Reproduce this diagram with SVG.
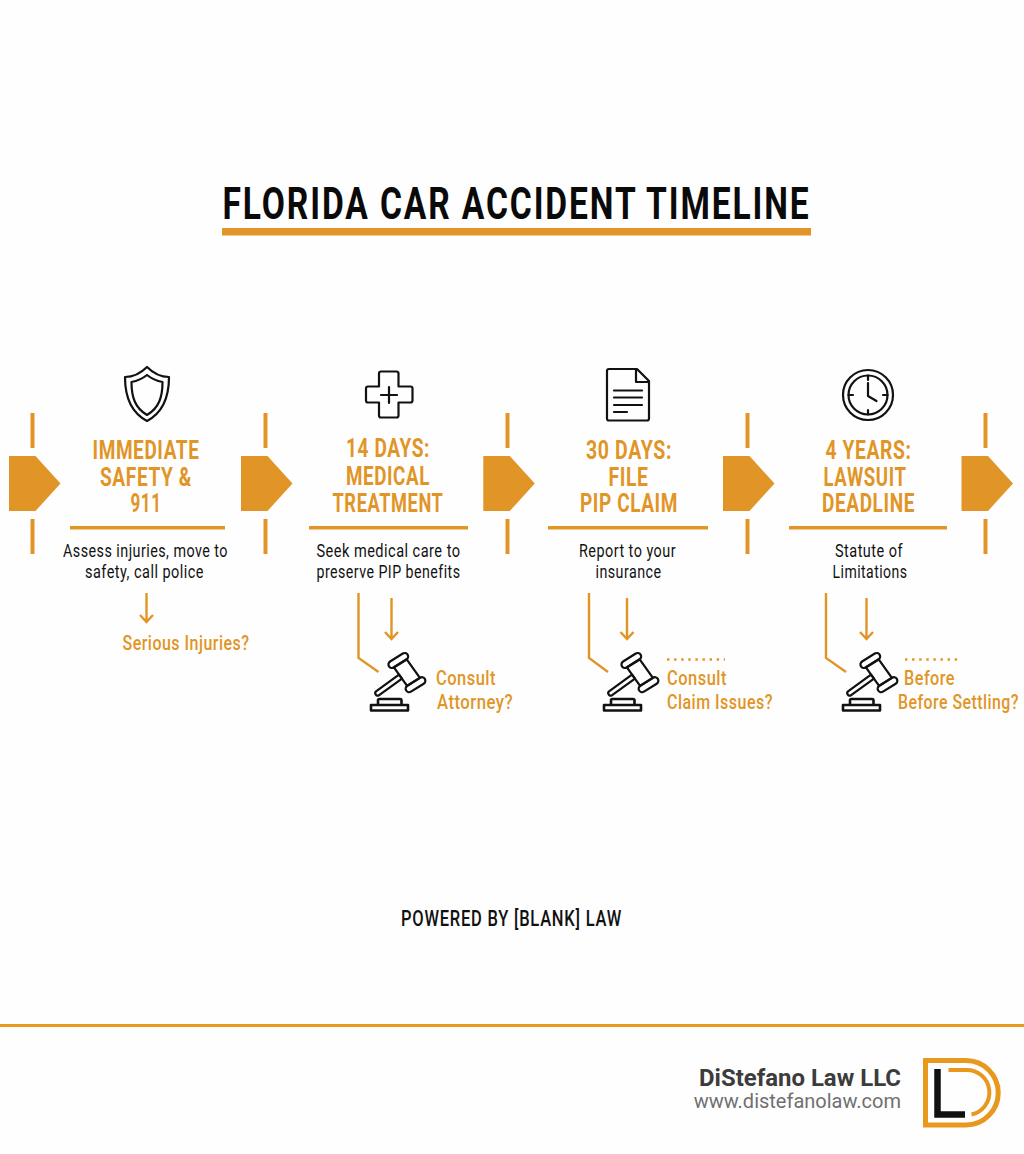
<svg xmlns="http://www.w3.org/2000/svg" width="1024" height="1154" viewBox="0 0 1024 1154">
<style>
text{font-family:Roboto,"Liberation Sans",sans-serif}
.h{font-size:25.500px;font-weight:700;fill:#e19527;text-anchor:middle;letter-spacing:.8px}
.b{font-size:18.500px;fill:#111;text-anchor:middle;letter-spacing:.6px}
.q{font-size:20.500px;font-weight:500;fill:#e19527;letter-spacing:.6px}
.or{fill:none;stroke:#e19527;stroke-width:2.400}
.k{fill:none;stroke:#111;stroke-width:2.200;stroke-linejoin:round;stroke-linecap:round}
.d{fill:none;stroke:#e19527;stroke-width:2.400;stroke-dasharray:2.400 4.700}
.t{fill:none;stroke:#e19527;stroke-width:4}
</style>
<defs>
<path id="chev" d="M9 456H35.500L60.500 483.500L35.500 511H9Z" fill="#e19527"/>
<path id="tick" class="t" d="M32.500 413V448M32.500 519V554"/>
<path id="arrS" class="or" d="M0 0V29M-6.500 22L0 29L6.500 22"/>
<path id="arrL" class="or" d="M0 0V41M-6.500 34L0 41L6.500 34"/>
<g id="gavel" class="k" stroke-width="2.400">
<path d="M6 38.300L29 21.600L32 25.600L8.800 42.300C6.500 44 4 40 6 38.300Z"/>
<path d="M23.900 14.300L36.700 6.300L49.900 24.900L37.100 32.900Z"/>
<rect x="17.300" y="4" width="22" height="7" rx="3.500" transform="rotate(-32 28.300 7.500)"/>
<rect x="34.500" y="28.200" width="22" height="7" rx="3.500" transform="rotate(-32 45.500 31.700)"/>
<path d="M8 51V47.500Q8 46 9.500 46H30Q31.500 46 31.500 47.500V51M1 52H38V57.500H1Z" stroke-width="2.600"/>
</g>
</defs>
<rect width="1024" height="1154" fill="#fefefe"/>
<g id="title">
<text x="516.500" y="219" font-size="45" font-weight="700" fill="#0a0a0a" text-anchor="middle" letter-spacing="2.500" textLength="588" lengthAdjust="spacingAndGlyphs">FLORIDA CAR ACCIDENT TIMELINE</text>
<rect x="222" y="228" width="589" height="7.500" fill="#e19527"/>
</g>
<g id="connectors">
<use href="#chev"/><use href="#tick"/>
<use href="#chev" x="232"/><use href="#tick" x="233"/>
<use href="#chev" x="474.300"/><use href="#tick" x="475"/>
<use href="#chev" x="714"/><use href="#tick" x="715"/>
<use href="#chev" x="952.500"/><use href="#tick" x="953"/>
<use href="#arrS" x="146.500" y="593"/>
<use href="#arrL" x="391.500" y="598"/>
<use href="#arrL" x="627" y="598"/>
<use href="#arrL" x="866.500" y="598"/>
<path class="or" d="M358.500 593V658L378.500 672"/>
<path class="or" d="M589 593V658L608 672"/>
<path class="or" d="M826 593V658L846 672"/>
<path class="d" d="M667 659.500H725M905 659.500H958"/>
</g>
<g id="step1">
<path class="k" d="M147 367C140 374 132 377 125 377C125 396 130 412 147 421C164 412 169 396 169 377C162 377 154 374 147 367Z"/>
<path class="k" stroke-width="1.800" d="M147 375C142 379 137 381 131.500 382C131.500 397 135 408 147 415C159 408 162.500 397 162.500 382C157 381 152 379 147 375Z"/>
<text class="h"><tspan x="146" y="459" textLength="107" lengthAdjust="spacingAndGlyphs">IMMEDIATE</tspan><tspan x="146" y="486" textLength="92" lengthAdjust="spacingAndGlyphs">SAFETY &amp;</tspan><tspan x="146" y="512" textLength="31" lengthAdjust="spacingAndGlyphs">911</tspan></text>
<rect x="70" y="526" width="155" height="3.500" fill="#e19527"/>
<text class="b"><tspan x="145.500" y="557" textLength="165" lengthAdjust="spacingAndGlyphs">Assess injuries, move to</tspan><tspan x="144.500" y="578" textLength="119" lengthAdjust="spacingAndGlyphs">safety, call police</tspan></text>
<text class="q" x="122.500" y="650" textLength="127" lengthAdjust="spacingAndGlyphs">Serious Injuries?</text>
</g>
<g id="step2">
<path class="k" d="M381 371.500H396.500Q398.500 371.500 398.500 373.500V386.500H410.500Q412.500 386.500 412.500 388.500V400.500Q412.500 402.500 410.500 402.500H398.500V415.500Q398.500 417.500 396.500 417.500H381Q379 417.500 379 415.500V402.500H368Q366 402.500 366 400.500V388.500Q366 386.500 368 386.500H379V373.500Q379 371.500 381 371.500Z"/>
<path class="k" d="M389 387V403M381 395H397" stroke-width="1.800"/>
<text class="h"><tspan x="388" y="457" textLength="84" lengthAdjust="spacingAndGlyphs">14 DAYS:</tspan><tspan x="388" y="485" textLength="84" lengthAdjust="spacingAndGlyphs">MEDICAL</tspan><tspan x="388" y="512" textLength="111" lengthAdjust="spacingAndGlyphs">TREATMENT</tspan></text>
<rect x="309" y="526" width="159" height="3.500" fill="#e19527"/>
<text class="b"><tspan x="388.500" y="557" textLength="144" lengthAdjust="spacingAndGlyphs">Seek medical care to</tspan><tspan x="388.500" y="578" textLength="144" lengthAdjust="spacingAndGlyphs">preserve PIP benefits</tspan></text>
<use href="#gavel" x="370" y="653"/>
<text class="q"><tspan x="436" y="685" textLength="60" lengthAdjust="spacingAndGlyphs">Consult</tspan><tspan x="437" y="709" textLength="76" lengthAdjust="spacingAndGlyphs">Attorney?</tspan></text>
</g>
<g id="step3">
<path class="k" d="M609 369H637L649 381V418.500Q649 420.500 647 420.500H609Q607 420.500 607 418.500V371Q607 369 609 369ZM636 369V382H649"/>
<path class="k" stroke-width="1.800" d="M614 390.500H642M614 397.500H642M614 405H642M614 412H627"/>
<text class="h"><tspan x="629" y="459" textLength="86" lengthAdjust="spacingAndGlyphs">30 DAYS:</tspan><tspan x="628.500" y="486" textLength="40" lengthAdjust="spacingAndGlyphs">FILE</tspan><tspan x="629" y="512" textLength="98" lengthAdjust="spacingAndGlyphs">PIP CLAIM</tspan></text>
<rect x="548" y="526" width="160" height="3.500" fill="#e19527"/>
<text class="b"><tspan x="627.500" y="557" textLength="97" lengthAdjust="spacingAndGlyphs">Report to your</tspan><tspan x="628.500" y="578" textLength="66" lengthAdjust="spacingAndGlyphs">insurance</tspan></text>
<use href="#gavel" x="603" y="653"/>
<text class="q"><tspan x="667" y="685" textLength="60" lengthAdjust="spacingAndGlyphs">Consult</tspan><tspan x="667" y="709" textLength="106" lengthAdjust="spacingAndGlyphs">Claim Issues?</tspan></text>
</g>
<g id="step4">
<circle class="k" cx="868" cy="395" r="25"/>
<circle class="k" cx="868" cy="395" r="19.500" stroke-width="1.800"/>
<path class="k" stroke-width="1.800" d="M868 375.500V380M868 410V414.500M848.500 395H853M883 395H887.500M868 383V396L876.500 401"/>
<text class="h"><tspan x="868.500" y="459" textLength="86" lengthAdjust="spacingAndGlyphs">4 YEARS:</tspan><tspan x="865" y="486" textLength="83" lengthAdjust="spacingAndGlyphs">LAWSUIT</tspan><tspan x="868.500" y="512" textLength="93" lengthAdjust="spacingAndGlyphs">DEADLINE</tspan></text>
<rect x="789" y="526" width="158" height="3.500" fill="#e19527"/>
<text class="b"><tspan x="869" y="557" textLength="68" lengthAdjust="spacingAndGlyphs">Statute of</tspan><tspan x="870" y="578" textLength="75" lengthAdjust="spacingAndGlyphs">Limitations</tspan></text>
<use href="#gavel" x="842" y="653"/>
<text class="q" x="904" y="685" textLength="51" lengthAdjust="spacingAndGlyphs">Before</text>
<text class="q" transform="translate(898 709) scale(.86 1)" textLength="140.700" lengthAdjust="spacingAndGlyphs">Before Settling?</text>
</g>
<text id="powered" x="511.500" y="926" font-size="21.500" font-weight="500" fill="#111" text-anchor="middle" letter-spacing="1" textLength="221" lengthAdjust="spacingAndGlyphs">POWERED BY [BLANK] LAW</text>
<g id="footer">
<rect y="1024" width="1024" height="3" fill="#e8981c"/>
<text x="901" y="1086" font-size="23.500" font-weight="700" fill="#3c3c3c" text-anchor="end" textLength="202" lengthAdjust="spacingAndGlyphs">DiStefano Law LLC</text>
<text x="901" y="1108" font-size="20" fill="#707070" text-anchor="end">www.distefanolaw.com</text>
</g>
<g id="logo">
<path d="M925.500 1060.500H966A32.250 32.250 0 0 1 966 1125H925.500Z" fill="none" stroke="#e8981c" stroke-width="5"/>
<path d="M948.500 1070H966A22.500 22.500 0 0 1 971.500 1114.500" fill="none" stroke="#e8981c" stroke-width="4"/>
<path d="M937.500 1069V1114.500H965" fill="none" stroke="#111" stroke-width="6.500"/>
</g>
</svg>
